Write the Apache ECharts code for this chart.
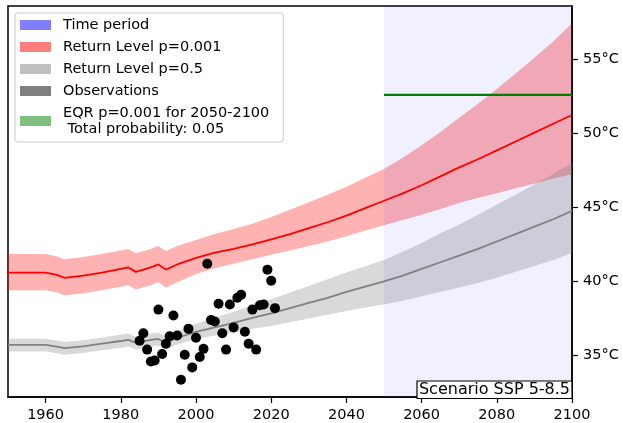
<!DOCTYPE html>
<html><head><meta charset="utf-8">
<script src="https://cdn.jsdelivr.net/npm/echarts@6/dist/echarts.min.js"></script>
<style>html,body{margin:0;padding:0;background:#fff}#c{width:623px;height:423px}</style>
</head><body><div id="c"></div>
<script>
// ---- data ----
const years = [1950,1955,1960,1963,1965,1970,1975,1980,1982,1984,1988,1990,1992,1995,2000,2005,2010,2015,2020,2025,2030,2035,2040,2045,2050,2055,2060,2065,2070,2075,2080,2085,2090,2095,2100];

// Return level p=0.001 (red)
const rl001Mid   = [40.6,40.6,40.6,40.45,40.25,40.4,40.6,40.85,40.95,40.65,40.95,41.15,40.8,41.15,41.6,41.95,42.2,42.5,42.85,43.2,43.6,44.0,44.45,44.95,45.45,45.95,46.5,47.1,47.7,48.25,48.85,49.45,50.05,50.65,51.24];
const rl001Upper = [41.85,41.85,41.85,41.7,41.5,41.65,41.85,42.1,42.2,41.9,42.2,42.4,42.05,42.4,42.8,43.2,43.55,43.9,44.35,44.85,45.35,45.85,46.4,47.0,47.6,48.35,49.2,50.1,51.05,52.0,53.0,54.05,55.1,56.2,57.44];
const rl001Lower = [39.4,39.4,39.4,39.25,39.05,39.2,39.4,39.65,39.75,39.45,39.75,39.95,39.6,39.95,40.5,40.9,41.2,41.5,41.8,42.1,42.4,42.7,43.05,43.45,43.8,44.15,44.5,44.9,45.3,45.65,45.95,46.3,46.6,46.95,47.24];

// Return level p=0.5 (gray)
const rl05Mid   = [35.72,35.72,35.72,35.6,35.5,35.62,35.8,35.98,36.06,35.85,36.05,36.12,35.86,36.2,36.6,36.9,37.2,37.55,37.85,38.2,38.55,38.9,39.3,39.65,40.0,40.4,40.85,41.3,41.75,42.2,42.7,43.2,43.7,44.2,44.77];
const rl05Upper = [36.14,36.14,36.14,36.02,35.92,36.04,36.22,36.4,36.48,36.27,36.47,36.54,36.28,36.62,37.15,37.55,37.95,38.4,38.8,39.25,39.7,40.15,40.6,41.03,41.45,42.0,42.6,43.25,43.85,44.5,45.2,45.85,46.55,47.25,48.0];
const rl05Lower = [35.27,35.27,35.27,35.15,35.05,35.17,35.35,35.53,35.61,35.4,35.6,35.67,35.41,35.75,36.1,36.35,36.55,36.8,37.0,37.25,37.5,37.75,38.0,38.25,38.45,38.7,39.0,39.3,39.6,39.9,40.25,40.65,41.05,41.45,41.92];

// Observations (annual maxima)
const obsYears  = [1985,1986,1987,1988,1989,1990,1991,1992,1993,1994,1995,1996,1997,1998,1999,2000,2001,2002,2003,2004,2005,2006,2007,2008,2009,2010,2011,2012,2013,2014,2015,2016,2017,2018,2019,2020,2021];
const obsValues = [36.0,36.5,35.4,34.6,34.66,38.1,35.1,35.8,36.3,37.7,36.35,33.36,35.05,36.8,34.2,36.2,34.9,35.45,41.2,37.4,37.3,38.5,36.5,35.4,38.45,36.9,38.9,39.1,36.6,35.8,38.1,35.4,38.4,38.45,40.8,40.05,38.2];

// Time period & EQR
const periodYears = [2050, 2100];
const eqrYears = [2050, 2100];
const eqrValue = 52.6;

// Axis ticks
const xTicks = [1960,1980,2000,2020,2040,2060,2080,2100];
const yTicks = [35,40,45,50,55];

const NAME_PERIOD = 'Time period';
const NAME_RL001 = 'Return Level p=0.001';
const NAME_RL05 = 'Return Level p=0.5';
const NAME_OBS = 'Observations';
const NAME_EQR = 'EQR p=0.001 for 2050-2100\n Total probability: 0.05';

const FONT = 'DejaVu Sans';

function bandSeries(name, upper, lower, color, z) {
  return {
    type: 'custom', name: name, z: z, silent: true, clip: true,
    itemStyle: {color: color},
    data: [[years[0], lower[0]]],
    renderItem: function (params, api) {
      const pts = [];
      for (let i = 0; i < years.length; i++) pts.push(api.coord([years[i], upper[i]]));
      for (let i = years.length - 1; i >= 0; i--) pts.push(api.coord([years[i], lower[i]]));
      return {type: 'polygon', shape: {points: pts}, style: {fill: color}};
    }
  };
}

const chart = echarts.init(document.getElementById('c'), null, {renderer: 'canvas'});
chart.setOption({
  animation: false,
  backgroundColor: '#fff',
  grid: {left: 8, right: 51, top: 6, bottom: 25, show: true, borderColor: '#000', borderWidth: 1.5, backgroundColor: '#fff'},
  xAxis: {
    type: 'value', min: 1950, max: 2100,
    splitLine: {show: false},
    axisLine: {show: true, lineStyle: {color: '#000', width: 1.5}},
    axisTick: {show: true, length: 6, lineStyle: {color: '#000', width: 1.2}, customValues: xTicks},
    axisLabel: {customValues: xTicks, margin: 11, color: '#000', fontFamily: FONT, fontSize: 14.5, formatter: function (v) { return String(v); }}
  },
  yAxis: {
    type: 'value', position: 'right', min: 32.2, max: 58.6,
    splitLine: {show: false},
    axisLine: {show: true, lineStyle: {color: '#000', width: 1.5}},
    axisTick: {show: true, length: 6, lineStyle: {color: '#000', width: 1.2}, customValues: yTicks},
    axisLabel: {customValues: yTicks, margin: 11, color: '#000', fontFamily: FONT, fontSize: 14.5, formatter: function (v) { return String(v) + '°C'; }}
  },
  legend: {
    orient: 'vertical', left: 15, top: 13,
    padding: [4, 14, 5, 5],
    itemWidth: 31, itemHeight: 10, itemGap: 6,
    icon: 'rect', selectedMode: false,
    backgroundColor: 'rgba(255,255,255,0.8)', borderColor: '#cccccc', borderWidth: 1, borderRadius: 3,
    textStyle: {fontFamily: FONT, fontSize: 14.5, color: '#000', lineHeight: 16, padding: [0, 0, 0, 7]},
    data: [
      {name: NAME_PERIOD, itemStyle: {color: 'rgba(0,0,255,0.5)'}},
      {name: NAME_RL001, itemStyle: {color: 'rgba(255,0,0,0.5)'}},
      {name: NAME_RL05, itemStyle: {color: 'rgba(128,128,128,0.5)'}},
      {name: NAME_OBS, itemStyle: {color: 'rgba(0,0,0,0.5)'}},
      {name: NAME_EQR, itemStyle: {color: 'rgba(0,128,0,0.5)'}}
    ]
  },
  series: [
    bandSeries(NAME_RL001, rl001Upper, rl001Lower, 'rgba(255,0,0,0.3)', 1),
    bandSeries(NAME_RL05, rl05Upper, rl05Lower, 'rgba(128,128,128,0.3)', 1),
    {
      type: 'custom', name: NAME_PERIOD, z: 2, silent: true, clip: true,
      itemStyle: {color: 'rgba(0,0,255,0.06)'},
      data: [[periodYears[0], 40]],
      renderItem: function (params, api) {
        const cs = params.coordSys;
        const x0 = api.coord([periodYears[0], 40])[0];
        const x1 = api.coord([periodYears[1], 40])[0];
        return {type: 'rect', shape: {x: x0, y: cs.y, width: x1 - x0, height: cs.height}, style: {fill: 'rgba(0,0,255,0.06)'}};
      }
    },
    {
      type: 'line', name: NAME_RL001, z: 3, showSymbol: false, silent: true,
      itemStyle: {color: '#ff0000'},
      lineStyle: {color: '#ff0000', width: 1.8},
      data: years.map((y, i) => [y, rl001Mid[i]])
    },
    {
      type: 'line', name: NAME_RL05, z: 3, showSymbol: false, silent: true,
      itemStyle: {color: '#808080'},
      lineStyle: {color: '#808080', width: 1.8},
      data: years.map((y, i) => [y, rl05Mid[i]])
    },
    {
      type: 'line', name: NAME_EQR, z: 3, showSymbol: false, silent: true,
      itemStyle: {color: '#008000'},
      lineStyle: {color: '#008000', width: 2.2},
      data: eqrYears.map(y => [y, eqrValue])
    },
    {
      type: 'scatter', name: NAME_OBS, z: 5, silent: true,
      symbolSize: 10,
      itemStyle: {color: '#000', opacity: 1},
      data: obsYears.map((y, i) => [y, obsValues[i]])
    }
  ],
  graphic: [
    {type: 'rect', z: 100, shape: {x: 417, y: 381, width: 155, height: 17.5}, style: {fill: '#fff', stroke: '#000', lineWidth: 1.2}},
    {type: 'text', z: 101, x: 494.5, y: 390, style: {text: 'Scenario SSP 5-8.5', fontFamily: FONT, fontSize: 16, fill: '#000', align: 'center', verticalAlign: 'middle'}}
  ]
});
</script>
</body></html>
